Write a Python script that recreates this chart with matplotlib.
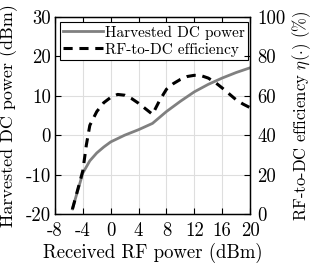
import numpy as np
import matplotlib
matplotlib.use("Agg")
import matplotlib.pyplot as plt

plt.rcParams['font.family'] = 'serif'
plt.rcParams['font.serif'] = ['cmr10', 'DejaVu Serif']
plt.rcParams['mathtext.fontset'] = 'cm'
plt.rcParams['axes.unicode_minus'] = False

# harvested DC power (dBm) vs received RF power (dBm)
pin_dc = [-5.5, -4, -3, -2, -1, 0, 2, 4, 6, 8, 10, 12, 14, 16, 18, 20]
p_dc = [-18.7, -9.6, -6.5, -4.5, -3.0, -1.7, 0.0, 1.4, 3.0, 6.0, 8.6, 11.0, 12.9, 14.5, 15.9, 17.1]

# RF-to-DC efficiency (%)
pin_eff = [-5.5, -4, -3.5, -3, -2, -1, 0, 1, 2, 3, 4, 5, 6, 7, 8, 9, 10, 11, 12, 13, 14, 15, 16, 17, 18, 19, 20]
eff = [2.4, 22, 35, 45, 52, 56.5, 59.2, 60.7, 60.3, 58.6, 56.2, 53.4, 50.6, 57.5, 63.3, 66.2, 68.3, 69.8, 70.4, 70.2, 69.0, 66.8, 64.0, 61.0, 58.0, 55.8, 54.0]

xticks = [-8, -4, 0, 4, 8, 12, 16, 20]


def main():
    fig = plt.figure(figsize=(3.12, 2.63), dpi=100)
    ax = fig.add_axes([55 / 312, 1 - 214 / 263, 195 / 312, 197 / 263])
    ax2 = ax.twinx()

    ln1, = ax.plot(pin_dc, p_dc, color='#808080', lw=2.0, label='Harvested DC power')
    ln2, = ax2.plot(pin_eff, eff, color='black', lw=2.2, ls=(0, (3, 2.2)),
                    label='RF-to-DC efficiency')

    ax.set_xlim(-8, 20)
    ax.set_ylim(-20, 30)
    ax2.set_ylim(0, 100)
    ax.set_xticks(xticks)
    ax.set_yticks(range(-20, 31, 10))
    ax2.set_yticks(range(0, 101, 20))
    ax.grid(True, color='#dedede', lw=0.8)
    ax.set_axisbelow(True)

    for a in (ax, ax2):
        a.tick_params(direction='in', labelsize=13.5, length=4, width=0.8,
                      top=(a is ax))
        for s in a.spines.values():
            s.set_linewidth(0.9)
    ax.tick_params(axis='x', pad=6)
    ax.tick_params(axis='y', pad=3)
    ax2.tick_params(axis='y', pad=5)

    ax.set_xlabel('Received RF power (dBm)', fontsize=13.5, labelpad=2)
    ax.set_ylabel('Harvested DC power (dBm)', fontsize=13)
    ax2.set_ylabel(r'RF-to-DC efficiency $\eta(\cdot)$ (%)', fontsize=12)
    ax.yaxis.set_label_coords(-0.19, 0.5)
    ax2.yaxis.set_label_coords(1.205, 0.5)

    leg = ax.legend(handles=[ln1, ln2], loc='upper left', fontsize=11,
                    fancybox=False, framealpha=1, edgecolor='black',
                    borderpad=0.25, handlelength=2.6, handletextpad=0.1,
                    labelspacing=0.2, borderaxespad=0.3)
    leg.get_frame().set_linewidth(0.8)

    fig.savefig('out.png', dpi=100)


if __name__ == "__main__":
    main()
